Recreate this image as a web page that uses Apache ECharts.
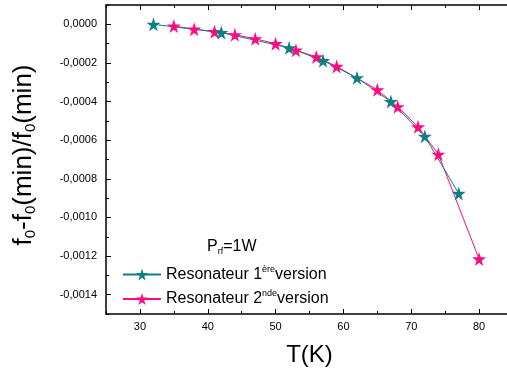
<!DOCTYPE html>
<html>
<head>
<meta charset="utf-8">
<script src="https://cdn.jsdelivr.net/npm/echarts@6/dist/echarts.min.js"></script>
<style>html,body{margin:0;padding:0;background:#fff;}#c{width:507px;height:372px;}</style>
</head>
<body>
<div id="c"></div>
<script>
// Series 1: Resonateur 1ère version
var tempV1 = [32, 42, 52, 57, 62, 67, 72, 77];
var shiftV1 = [0, -0.000043, -0.000122, -0.000188, -0.000277, -0.0004, -0.00058, -0.000876];
// Series 2: Resonateur 2nde version
var tempV2 = [35, 38, 41, 44, 47, 50, 53, 56, 59, 65, 68, 71, 74, 80];
var shiftV2 = [-0.000009, -0.000025, -0.000038, -0.000054, -0.000075, -0.0001, -0.000134, -0.000169, -0.000218, -0.000339, -0.000427, -0.000531, -0.000673, -0.001215];
// Tick labels
var xMajorTicks = [30, 40, 50, 60, 70, 80];
var xMinorTicks = [25, 35, 45, 55, 65, 75, 85];
var yMajorTicks = [-0.0014, -0.0012, -0.0010, -0.0008, -0.0006, -0.0004, -0.0002, 0];
var yMinorTicks = [-0.0015, -0.0013, -0.0011, -0.0009, -0.0007, -0.0005, -0.0003, -0.0001, 0.0001];

var STAR = 'path://M50,0 L61,35 L98,35 L68,57 L79,91 L50,70 L21,91 L32,57 L2,35 L39,35 Z';
var FONT = '"Liberation Sans", Arial, sans-serif';
function pairs(xs, ys) { return xs.map(function (x, i) { return [x, ys[i]]; }); }

var chart = echarts.init(document.getElementById('c'), null, {renderer: 'canvas'});
var axisLine = {show: true, onZero: false, lineStyle: {color: '#000', width: 1.5}};
var noLine = {show: false, onZero: false};
function xAx(pos, major, showLabel, name) {
  var o = {
    type: 'value', position: pos, min: 25, max: 85, interval: 5,
    axisLine: major ? axisLine : noLine,
    splitLine: {show: false},
    axisTick: {show: true, inside: true, length: major ? 5 : 3, customValues: major ? xMajorTicks : xMinorTicks, lineStyle: {color: '#000', width: 1}},
    axisLabel: {show: showLabel, customValues: xMajorTicks, margin: 7, color: '#000', fontSize: 11, fontFamily: FONT}
  };
  if (name) {
    o.name = name; o.nameLocation = 'middle'; o.nameGap = 29;
    o.nameTextStyle = {fontSize: 24, color: '#000', fontFamily: FONT};
  }
  return o;
}
function yAx(major) {
  var o = {
    type: 'value', position: 'left', min: -0.0015, max: 0.0001, interval: 0.0001,
    axisLine: major ? axisLine : noLine,
    splitLine: {show: false},
    axisTick: {show: true, inside: true, length: major ? 5 : 3, customValues: major ? yMajorTicks : yMinorTicks, lineStyle: {color: '#000', width: 1}},
    axisLabel: {show: major, customValues: yMajorTicks, margin: 9, color: '#000', fontSize: 11, fontFamily: FONT,
      formatter: function (v) { var s = Math.abs(v) < 1e-9 ? '0.0000' : v.toFixed(4); return s.replace('.', ','); }}
  };
  if (major) {
    o.name = '{m|f}{s|0}{m|-f}{s|0}{m|(min)/f}{s|0}{m|(min)}';
    o.nameLocation = 'middle'; o.nameGap = 68;
    o.nameTextStyle = {padding: [0, 0, 0, 9], rich: {
      m: {fontSize: 26, color: '#000', fontFamily: FONT},
      s: {fontSize: 15, color: '#000', fontFamily: FONT, verticalAlign: 'bottom', padding: [13, 0, 0, 0]}
    }};
  }
  return o;
}

chart.setOption({
  backgroundColor: '#fff',
  animation: false,
  grid: {left: 106, width: 407, top: 5, height: 309, containLabel: false, outerBoundsMode: 'none'},
  xAxis: [xAx('bottom', true, true, 'T(K)'), xAx('bottom', false, false), xAx('top', true, false), xAx('top', false, false)],
  yAxis: [yAx(true), yAx(false)],
  legend: {
    orient: 'vertical', left: 117, top: 260, itemWidth: 38, itemHeight: 15, itemGap: 7,
    data: ['v1', 'v2'],
    formatter: function (n) {
      return n === 'v1' ? '{a|Resonateur 1}{p|ère}{a|version}' : '{a|Resonateur 2}{p|nde}{a|version}';
    },
    textStyle: {rich: {
      a: {fontSize: 16, color: '#000', fontFamily: FONT},
      p: {fontSize: 9, color: '#000', fontFamily: FONT, verticalAlign: 'top', padding: [0, 0, 10, 0]}
    }}
  },
  graphic: [{
    type: 'text', left: 207, top: 239,
    style: {
      text: '{a|P}{s|rf}{a|=1W}',
      rich: {
        a: {fontSize: 16, fill: '#000', fontFamily: FONT},
        s: {fontSize: 9, fill: '#000', fontFamily: FONT, verticalAlign: 'bottom', padding: [10, 0, 0, 0]}
      }
    }
  }],
  series: [
    {name: 'v2', type: 'line', xAxisIndex: 0, yAxisIndex: 0, data: pairs(tempV2, shiftV2),
      symbol: STAR, symbolSize: 14, showAllSymbol: true,
      lineStyle: {color: '#ff0a82', width: 1}, itemStyle: {color: '#ff0a82'}},
    {name: 'v1', type: 'line', xAxisIndex: 0, yAxisIndex: 0, data: pairs(tempV1, shiftV1),
      symbol: STAR, symbolSize: 14, showAllSymbol: true,
      lineStyle: {color: '#0d7f80', width: 1}, itemStyle: {color: '#0d7f80'}}
  ]
});
</script>
</body>
</html>
